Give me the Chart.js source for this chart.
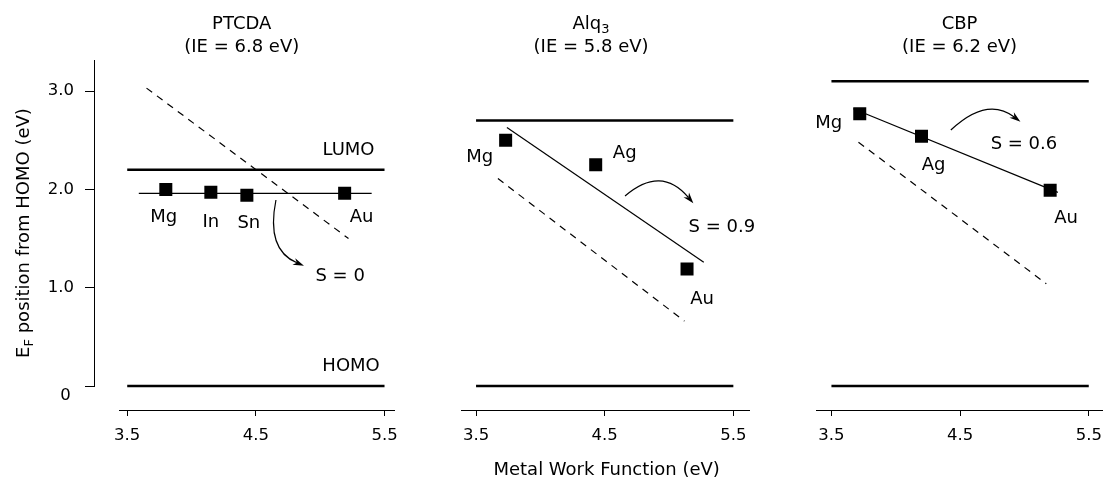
<!DOCTYPE html>
<html>
<head>
<meta charset="utf-8">
<title>Fermi level pinning at metal / organic interfaces</title>
<script src="https://cdn.jsdelivr.net/npm/chart.js@4.4.1/dist/chart.umd.min.js"></script>
<style>
  html, body { margin: 0; padding: 0; background: #fff; overflow: hidden; }
  #wrap { position: relative; width: 1103px; height: 479px; overflow: hidden; }
  #wrap canvas { position: absolute; left: 0; top: 0; }
</style>
</head>
<body>
<div id="wrap">
  <canvas id="energyAxis" width="1140" height="479"></canvas>
  <canvas id="ptcda" width="1140" height="479"></canvas>
  <canvas id="alq" width="1140" height="479"></canvas>
  <canvas id="cbp" width="1140" height="479"></canvas>
</div>
<script>
// ---- tick values shared by the panels ----
const workFunctionTicks = [3.5, 4.5, 5.5];
const energyTicks = [0, 1, 2, 3];

// ---- PTCDA (IE = 6.8 eV) ----
const ptcdaMetals = ['Mg', 'In', 'Sn', 'Au'];
const ptcdaWorkFunction = [3.80, 4.15, 4.43, 5.19];
const ptcdaFermi = [2.00, 1.97, 1.94, 1.96];
const ptcdaFitX = [3.59, 5.40];
const ptcdaFitY = [1.96, 1.96];
const ptcdaSchottkyX = [3.65, 5.22];
const ptcdaSchottkyY = [3.03, 1.50];
const ptcdaLumo = 2.2;

// ---- Alq3 (IE = 5.8 eV) ----
const alqMetals = ['Mg', 'Ag', 'Au'];
const alqWorkFunction = [3.73, 4.43, 5.14];
const alqFermi = [2.50, 2.25, 1.19];
const alqFitX = [3.74, 5.27];
const alqFitY = [2.63, 1.26];
const alqSchottkyX = [3.67, 5.12];
const alqSchottkyY = [2.11, 0.66];
const alqLumo = 2.7;

// ---- CBP (IE = 6.2 eV) ----
const cbpMetals = ['Mg', 'Ag', 'Au'];
const cbpWorkFunction = [3.72, 4.20, 5.20];
const cbpFermi = [2.77, 2.54, 1.99];
const cbpFitX = [3.67, 5.26];
const cbpFitY = [2.82, 1.97];
const cbpSchottkyX = [3.71, 5.17];
const cbpSchottkyY = [2.48, 1.04];
const cbpLumo = 3.1;

// transport levels span the whole work-function window
const levelSpan = [3.5, 5.5];
const homoLevel = 0;

// ---- drawing setup ----
const FONT = '"DejaVu Sans", "Verdana", sans-serif';
Chart.defaults.font.family = FONT;
Chart.defaults.color = '#000';

const CANVAS_W = 1140;
const energyMin = -0.244;
const energyMax = 3.316;
const TEXT = 18;
const SUB = 13;
const TICK_TEXT = 16.5;

const pairs = (xs, ys) => xs.map((x, i) => ({ x, y: ys[i] }));
const flat = (xs, v) => xs.map(x => ({ x, y: v }));

// text centred on its cap height
function capText(ctx, str, px, py, size, align) {
  ctx.font = size + 'px ' + FONT;
  ctx.textAlign = align || 'center';
  ctx.textBaseline = 'alphabetic';
  ctx.fillText(str, px, py + 0.365 * size);
}

// a run of text pieces (for subscripts), centred on cx
function textRuns(ctx, runs, cx, cy) {
  let total = 0;
  runs.forEach(r => {
    ctx.font = r.size + 'px ' + FONT;
    r.w = ctx.measureText(r.t).width;
    total += r.w;
  });
  let x = cx - total / 2;
  const base = cy + 0.365 * TEXT;
  ctx.textAlign = 'left';
  ctx.textBaseline = 'alphabetic';
  runs.forEach(r => {
    ctx.font = r.size + 'px ' + FONT;
    ctx.fillText(r.t, x, base + (r.dy || 0));
    x += r.w;
  });
}

function curvedArrow(ctx, xs, ys, a) {
  const x0 = xs.getPixelForValue(a.from[0]), y0 = ys.getPixelForValue(a.from[1]);
  const cx = xs.getPixelForValue(a.ctrl[0]), cy = ys.getPixelForValue(a.ctrl[1]);
  const x1 = xs.getPixelForValue(a.to[0]), y1 = ys.getPixelForValue(a.to[1]);
  const ang = Math.atan2(y1 - cy, x1 - cx);
  const len = 11, half = 3.6;
  const bx = x1 - len * 0.7 * Math.cos(ang), by = y1 - len * 0.7 * Math.sin(ang);
  ctx.save();
  ctx.strokeStyle = '#000';
  ctx.fillStyle = '#000';
  ctx.lineWidth = 1.2;
  ctx.beginPath();
  ctx.moveTo(x0, y0);
  ctx.quadraticCurveTo(cx, cy, bx, by);
  ctx.stroke();
  ctx.beginPath();
  ctx.moveTo(x1, y1);
  ctx.lineTo(x1 - len * Math.cos(ang) + half * Math.sin(ang), y1 - len * Math.sin(ang) - half * Math.cos(ang));
  ctx.lineTo(x1 - len * 0.7 * Math.cos(ang), y1 - len * 0.7 * Math.sin(ang));
  ctx.lineTo(x1 - len * Math.cos(ang) - half * Math.sin(ang), y1 - len * Math.sin(ang) + half * Math.cos(ang));
  ctx.closePath();
  ctx.fill();
  ctx.restore();
}

const panels = [
  {
    id: 'ptcda',
    title: [{ t: 'PTCDA', size: TEXT }],
    subtitle: '(IE = 6.8 eV)',
    titleX: 4.39,
    metals: ptcdaMetals, wf: ptcdaWorkFunction, ef: ptcdaFermi,
    fitX: ptcdaFitX, fitY: ptcdaFitY,
    limX: ptcdaSchottkyX, limY: ptcdaSchottkyY,
    lumo: ptcdaLumo,
    xMin: 3.44, xMax: 5.576, left: 119.5, right: 394.3,
    labelOffsets: [[-2, 26], [0, 28], [2, 26], [17, 22]],
    notes: [
      { t: 'LUMO', x: 5.22, y: 2.42 },
      { t: 'HOMO', x: 5.24, y: 0.22 },
      { t: 'S = 0', x: 5.155, y: 1.13 }
    ],
    arrow: { from: [4.656, 1.892], ctrl: [4.578, 1.384], to: [4.874, 1.224] }
  },
  {
    id: 'alq',
    title: [{ t: 'Alq', size: TEXT }, { t: '3', size: SUB, dy: 4 }],
    subtitle: '(IE = 5.8 eV)',
    titleX: 4.394,
    metals: alqMetals, wf: alqWorkFunction, ef: alqFermi,
    fitX: alqFitX, fitY: alqFitY,
    limX: alqSchottkyX, limY: alqSchottkyY,
    lumo: alqLumo,
    xMin: 3.383, xMax: 5.624, left: 461, right: 749.3,
    labelOffsets: [[-26, 15], [29, -13], [15, 28]],
    notes: [
      { t: 'S = 0.9', x: 5.411, y: 1.638 }
    ],
    arrow: { from: [4.658, 1.933], ctrl: [4.938, 2.248], to: [5.189, 1.858] },
    axisTitle: 'Metal Work Function (eV)'
  },
  {
    id: 'cbp',
    title: [{ t: 'CBP', size: TEXT }],
    subtitle: '(IE = 6.2 eV)',
    titleX: 4.496,
    metals: cbpMetals, wf: cbpWorkFunction, ef: cbpFermi,
    fitX: cbpFitX, fitY: cbpFitY,
    limX: cbpSchottkyX, limY: cbpSchottkyY,
    lumo: cbpLumo,
    xMin: 3.38, xMax: 5.62, left: 816, right: 1104.2,
    labelOffsets: [[-31, 8], [12, 27], [16, 26]],
    notes: [
      { t: 'S = 0.6', x: 4.996, y: 2.482 }
    ],
    arrow: { from: [4.428, 2.604], ctrl: [4.708, 2.948], to: [4.969, 2.689] }
  }
];

panels.forEach(p => {
  const annotate = {
    id: 'annotate-' + p.id,
    afterDatasetsDraw(chart) {
      const ctx = chart.ctx;
      const xs = chart.scales.x, ys = chart.scales.y;
      ctx.save();
      ctx.fillStyle = '#000';
      // panel heading
      const tx = xs.getPixelForValue(p.titleX);
      textRuns(ctx, p.title, tx, 22.5);
      capText(ctx, p.subtitle, tx, 45, TEXT);
      // metal names next to their points
      p.metals.forEach((m, i) => {
        const px = xs.getPixelForValue(p.wf[i]) + p.labelOffsets[i][0];
        const py = ys.getPixelForValue(p.ef[i]) + p.labelOffsets[i][1];
        capText(ctx, m, px, py, TEXT);
      });
      // level names and slope parameter
      p.notes.forEach(n => capText(ctx, n.t, xs.getPixelForValue(n.x), ys.getPixelForValue(n.y), TEXT));
      curvedArrow(ctx, xs, ys, p.arrow);
      if (p.axisTitle) {
        const a = chart.chartArea;
        capText(ctx, p.axisTitle, (a.left + a.right) / 2 + 1.5, 468, TEXT);
      }
      ctx.restore();
    }
  };

  new Chart(document.getElementById(p.id), {
    type: 'line',
    data: {
      datasets: [
        { data: flat(levelSpan, p.lumo), borderColor: '#000', borderWidth: 2.6, pointRadius: 0 },
        { data: flat(levelSpan, homoLevel), borderColor: '#000', borderWidth: 2.6, pointRadius: 0 },
        { data: pairs(p.limX, p.limY), borderColor: '#000', borderWidth: 1.2, borderDash: [7, 6], pointRadius: 0 },
        { data: pairs(p.fitX, p.fitY), borderColor: '#000', borderWidth: 1.2, pointRadius: 0 },
        {
          data: pairs(p.wf, p.ef), showLine: false,
          pointStyle: 'rect', pointRadius: 9.2,
          pointBackgroundColor: '#000', pointBorderColor: '#000', pointBorderWidth: 0
        }
      ]
    },
    options: {
      responsive: false,
      animation: false,
      events: [],
      layout: { padding: { left: p.left, right: CANVAS_W - p.right, top: 60, bottom: 29 } },
      plugins: { legend: { display: false }, tooltip: { enabled: false } },
      scales: {
        x: {
          type: 'linear', min: p.xMin, max: p.xMax,
          afterFit: s => { s.height = 40; },
          afterBuildTicks: s => { s.ticks = workFunctionTicks.map(v => ({ value: v })); },
          border: { display: true, color: '#000', width: 1 },
          grid: { drawOnChartArea: false, color: '#000', lineWidth: 1, tickLength: 6 },
          ticks: { color: '#000', font: { size: TICK_TEXT }, padding: 10, maxRotation: 0, callback: v => v.toFixed(1) }
        },
        y: { type: 'linear', display: false, min: energyMin, max: energyMax }
      }
    },
    plugins: [annotate]
  });
});

// ---- shared energy axis on the left ----
const energyTitle = {
  id: 'energy-title',
  afterDraw(chart) {
    const ctx = chart.ctx;
    ctx.save();
    ctx.fillStyle = '#000';
    ctx.translate(22, 233);
    ctx.rotate(-Math.PI / 2);
    textRuns(ctx, [
      { t: 'E', size: TEXT },
      { t: 'F', size: SUB, dy: 4 },
      { t: ' position from HOMO (eV)', size: TEXT }
    ], 0, 0);
    ctx.restore();
  }
};

new Chart(document.getElementById('energyAxis'), {
  type: 'line',
  data: { datasets: [] },
  options: {
    responsive: false,
    animation: false,
    events: [],
    layout: { padding: { left: 14, right: CANVAS_W - 200, top: 60, bottom: 93 } },
    plugins: { legend: { display: false }, tooltip: { enabled: false } },
    scales: {
      x: { type: 'linear', display: false, min: 3.241, max: 4.065 },
      y: {
        type: 'linear', min: 0, max: energyMax,
        afterFit: s => { s.width = 80; },
        afterBuildTicks: s => { s.ticks = energyTicks.map(v => ({ value: v })); },
        border: { display: true, color: '#000', width: 1 },
        grid: { drawOnChartArea: false, color: '#000', lineWidth: 1, tickLength: 9 },
        ticks: {
          color: '#000', font: { size: TICK_TEXT }, padding: 11,
          callback: v => (v === 0 ? ['', '0\u2009'] : v.toFixed(1))
        }
      }
    }
  },
  plugins: [energyTitle]
});
</script>
</body>
</html>
